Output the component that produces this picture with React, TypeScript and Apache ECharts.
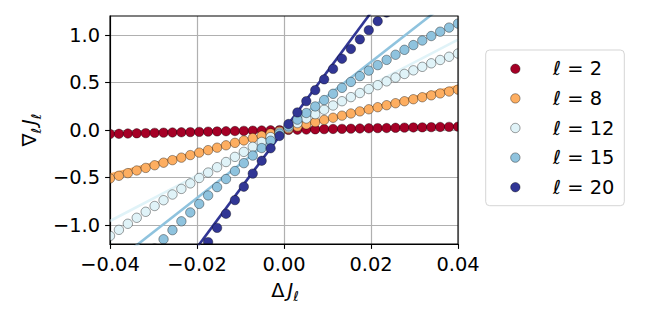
import React, { useEffect, useRef } from 'react';
import * as echarts from 'echarts';

// ΔJ_ℓ sample positions (40 points between -0.04 and 0.04)
const X_VALUES = [
  -0.04, -0.03795, -0.0359, -0.03385, -0.03179, -0.02974, -0.02769, -0.02564, -0.02359, -0.02154,
  -0.01949, -0.01744, -0.01538, -0.01333, -0.01128, -0.00923, -0.00718, -0.00513, -0.00308, -0.00103,
  0.00103, 0.00308, 0.00513, 0.00718, 0.00923, 0.01128, 0.01333, 0.01538, 0.01744, 0.01949,
  0.02154, 0.02359, 0.02564, 0.02769, 0.02974, 0.03179, 0.03385, 0.0359, 0.03795, 0.04,
];

const Y_L2 = [
  -0.042, -0.04, -0.037, -0.035, -0.033, -0.03, -0.028, -0.026, -0.024, -0.022,
  -0.02, -0.017, -0.015, -0.013, -0.011, -0.009, -0.007, -0.005, -0.003, -0.001,
  0.001, 0.003, 0.005, 0.007, 0.009, 0.011, 0.012, 0.014, 0.016, 0.018,
  0.02, 0.021, 0.023, 0.025, 0.027, 0.028, 0.03, 0.032, 0.033, 0.035,
];
const Y_L8 = [
  -0.51, -0.482, -0.454, -0.426, -0.399, -0.371, -0.344, -0.317, -0.291, -0.264,
  -0.238, -0.212, -0.186, -0.161, -0.135, -0.11, -0.085, -0.061, -0.036, -0.012,
  0.012, 0.036, 0.059, 0.083, 0.106, 0.129, 0.151, 0.174, 0.196, 0.218,
  0.24, 0.261, 0.282, 0.303, 0.324, 0.345, 0.365, 0.385, 0.405, 0.425,
];
const Y_L12 = [
  -1.115, -1.051, -0.987, -0.924, -0.861, -0.8, -0.739, -0.679, -0.62, -0.562,
  -0.505, -0.448, -0.392, -0.337, -0.283, -0.23, -0.177, -0.126, -0.075, -0.025,
  0.025, 0.073, 0.121, 0.167, 0.213, 0.258, 0.303, 0.346, 0.389, 0.431,
  0.472, 0.512, 0.552, 0.59, 0.628, 0.665, 0.702, 0.737, 0.771, 0.805,
];
const Y_L15 = [
  -1.76, -1.654, -1.55, -1.448, -1.347, -1.247, -1.15, -1.054, -0.961, -0.868,
  -0.778, -0.689, -0.601, -0.516, -0.432, -0.349, -0.269, -0.19, -0.113, -0.037,
  0.037, 0.109, 0.179, 0.248, 0.315, 0.381, 0.444, 0.506, 0.567, 0.625,
  0.683, 0.738, 0.792, 0.844, 0.894, 0.942, 0.989, 1.035, 1.078, 1.12,
];
const Y_L20 = [
  -3.043, -2.858, -2.677, -2.498, -2.322, -2.149, -1.98, -1.814, -1.651, -1.491,
  -1.334, -1.18, -1.03, -0.882, -0.738, -0.597, -0.459, -0.324, -0.192, -0.063,
  0.063, 0.185, 0.304, 0.42, 0.533, 0.643, 0.75, 0.853, 0.954, 1.051,
  1.146, 1.237, 1.325, 1.409, 1.491, 1.569, 1.645, 1.718, 1.787, 1.853,
];

// linear-response lines (end points)
const FIT_X = [-0.04, 0.04];
const FIT_L2 = [-0.038, 0.038];
const FIT_L8 = [-0.468, 0.464];
const FIT_L12 = [-0.958, 0.952];
const FIT_L15 = [-1.432, 1.432];
const FIT_L20 = [-2.472, 2.472];

const SERIES_NAMES = ['ℓ = 2', 'ℓ = 8', 'ℓ = 12', 'ℓ = 15', 'ℓ = 20'];
const COLORS = ['#a50026', '#fdae61', '#e0f3f8', '#8fc3de', '#313695'];
const POINTS = [Y_L2, Y_L8, Y_L12, Y_L15, Y_L20];
const FITS = [FIT_L2, FIT_L8, FIT_L12, FIT_L15, FIT_L20];

const X_TICKS = [-0.04, -0.02, 0, 0.02, 0.04];
const Y_TICKS = [-1, -0.5, 0, 0.5, 1];

const FONT = 'DejaVu Sans';
const FS = 19.4;
const EDGE = 'rgba(0,0,0,0.55)';

const fmt = (v: number, d: number) => {
  const s = Math.abs(v).toFixed(d);
  return v < -1e-9 ? '\u2212' + s : s;
};

const mathRich = {
  m: { fontFamily: FONT, fontSize: FS, lineHeight: FS, verticalAlign: 'middle', fill: '#000', color: '#000' },
  i: { fontFamily: FONT, fontSize: FS, fontStyle: 'italic', lineHeight: FS, verticalAlign: 'middle', fill: '#000', color: '#000' },
  g: { width: 3, lineHeight: FS, verticalAlign: 'middle' },
  s: {
    fontFamily: FONT, fontSize: 13.6, fontStyle: 'italic', lineHeight: 13.6,
    padding: [12, 0, 0, 0], verticalAlign: 'middle', fill: '#000', color: '#000',
  },
};

export default function App() {
  const ref = useRef<HTMLDivElement>(null);

  useEffect(() => {
    if (!ref.current) return;
    const chart = echarts.init(ref.current, null, { renderer: 'svg' });

    const series: any[] = [];
    SERIES_NAMES.forEach((name, k) => {
      const color = COLORS[k];
      series.push({
        type: 'line',
        name,
        data: FIT_X.map((x, i) => [x, FITS[k][i]]),
        symbol: 'none',
        showSymbol: false,
        clip: true,
        silent: true,
        z: 2,
        lineStyle: { color, width: 2.6 },
        itemStyle: { color },
      });
    });
    SERIES_NAMES.forEach((name, k) => {
      const color = COLORS[k];
      series.push({
        type: 'custom',
        name,
        data: X_VALUES.map((x, i) => [x, POINTS[k][i]]),
        encode: { x: 0, y: 1 },
        clip: true,
        silent: true,
        z: 3,
        itemStyle: { color },
        renderItem: (_p: any, api: any) => {
          const pt = api.coord([api.value(0), api.value(1)]);
          return {
            type: 'circle',
            shape: { cx: pt[0], cy: pt[1], r: 4.7 },
            style: { fill: color, stroke: EDGE, lineWidth: 0.7 },
          };
        },
      });
    });

    const axisCommon = {
      axisLine: { show: true, onZero: false, lineStyle: { color: '#000', width: 1.1 } },
      axisTick: { show: true, inside: false, length: 4.9, lineStyle: { color: '#000', width: 1.1 } },
      splitLine: { show: true, lineStyle: { color: '#b0b0b0', width: 1.2 } },
    };

    chart.setOption({
      animation: false,
      backgroundColor: '#ffffff',
      grid: {
        left: 110, right: 190, top: 16, bottom: 80,
        show: true, borderColor: '#000', borderWidth: 1.1, z: 10,
        backgroundColor: 'transparent',
      },
      xAxis: {
        type: 'value',
        min: -0.04,
        max: 0.04,
        interval: 0.02,
        z: 1,
        ...axisCommon,
        axisTick: { ...axisCommon.axisTick, customValues: X_TICKS },
        axisLabel: {
          customValues: X_TICKS,
          showMinLabel: true,
          showMaxLabel: true,
          margin: 11,
          fontSize: FS,
          fontFamily: FONT,
          color: '#000',
          formatter: (v: number) => fmt(v, 2),
        },
      },
      yAxis: {
        type: 'value',
        min: -1.2,
        max: 1.2,
        z: 1,
        ...axisCommon,
        axisTick: { ...axisCommon.axisTick, customValues: Y_TICKS },
        axisLabel: {
          customValues: Y_TICKS,
          margin: 10,
          fontSize: FS,
          fontFamily: FONT,
          color: '#000',
          formatter: (v: number) => fmt(v, 1),
        },
      },
      legend: {
        orient: 'vertical',
        left: 485.7,
        top: 50,
        padding: [9.3, 10, 9, 24.6],
        itemWidth: 9.4,
        itemHeight: 9.4,
        itemGap: 10.6,
        selectedMode: false,
        backgroundColor: '#ffffff',
        borderColor: '#d5d5d5',
        borderWidth: 1,
        borderRadius: 4,
        z: 20,
        data: SERIES_NAMES.map((name, k) => ({
          name,
          icon: 'circle',
          itemStyle: { color: COLORS[k], borderColor: EDGE, borderWidth: 0.7 },
        })),
        formatter: (name: string) => `{sp|}{l|ℓ}{t| = ${name.split('= ')[1]}}`,
        textStyle: {
          rich: {
            sp: { width: 28, lineHeight: 20 },
            l: { fontFamily: FONT, fontSize: FS, fontStyle: 'italic', lineHeight: 20, color: '#000' },
            t: { fontFamily: FONT, fontSize: FS, lineHeight: 20, color: '#000' },
          },
        },
      },
      graphic: [
        {
          type: 'text',
          x: 285,
          y: 290,
          z: 30,
          style: {
            text: '{m|Δ}{g|}{i|J}{s|ℓ}',
            rich: mathRich,
            align: 'center',
            verticalAlign: 'middle',
          },
        },
        {
          type: 'text',
          x: 29.5,
          y: 130,
          rotation: Math.PI / 2,
          z: 30,
          style: {
            text: '{m|∇}{s|ℓ}{g|}{i|J}{s|ℓ}',
            rich: mathRich,
            align: 'center',
            verticalAlign: 'middle',
          },
        },
      ],
      series,
    });

    return () => chart.dispose();
  }, []);

  return (
    <div
      ref={ref}
      style={{ position: 'fixed', left: 0, top: 0, width: 648, height: 324, background: '#fff' }}
    />
  );
}
